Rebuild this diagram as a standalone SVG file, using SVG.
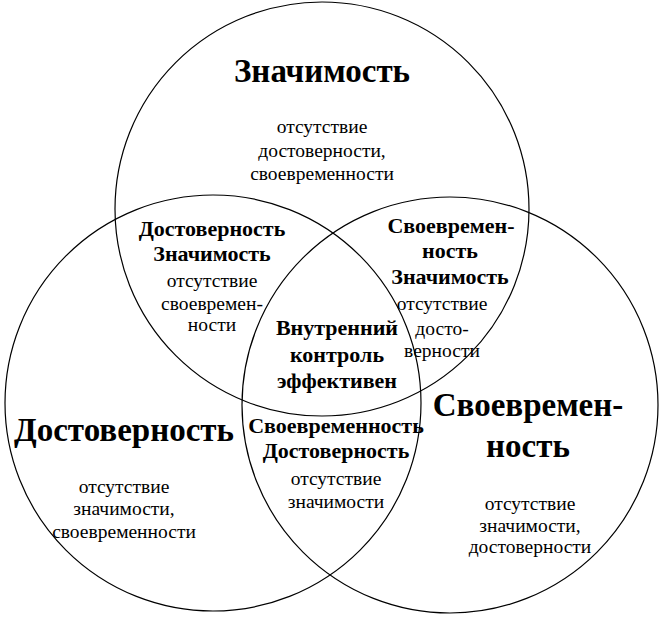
<svg xmlns="http://www.w3.org/2000/svg" width="664" height="619" viewBox="0 0 664 619">
<style>
.c{fill:none;stroke:#000;stroke-width:1.2}
text{fill:#000;text-anchor:middle}
.big{font-size:33px;font-weight:bold}
.mid{font-size:22px;font-weight:bold}
.sm{font-size:19.5px}
</style>
<rect width="664" height="619" fill="#fff"/>
<g id="circles">
<circle id="c-top" class="c" cx="322" cy="209" r="207"/>
<circle id="c-left" class="c" cx="213" cy="403" r="208"/>
<circle id="c-right" class="c" cx="450" cy="405" r="208"/>
</g>
<g id="labels" font-family="'Liberation Serif', 'DejaVu Serif', serif">
<g id="n-top">
<text class="big" x="322" y="82">Значимость</text>
<text class="sm" x="322" y="133">отсутствие</text>
<text class="sm" x="322" y="157">достоверности,</text>
<text class="sm" x="322" y="180">своевременности</text>
</g>
<g id="n-left">
<text class="big" x="124" y="441">Достоверность</text>
<text class="sm" x="124" y="493">отсутствие</text>
<text class="sm" x="124" y="515">значимости,</text>
<text class="sm" x="124" y="538">своевременности</text>
</g>
<g id="n-right">
<text class="big" x="528" y="416">Своевремен-</text>
<text class="big" x="528" y="457">ность</text>
<text class="sm" x="530" y="510">отсутствие</text>
<text class="sm" x="530" y="532">значимости,</text>
<text class="sm" x="530" y="553">достоверности</text>
</g>
<g id="n-top-left">
<text class="mid" x="212" y="236">Достоверность</text>
<text class="mid" x="212" y="261">Значимость</text>
<text class="sm" x="212" y="287">отсутствие</text>
<text class="sm" x="212" y="310">своевремен-</text>
<text class="sm" x="212" y="331">ности</text>
</g>
<g id="n-top-right">
<text class="mid" x="451" y="233">Своевремен-</text>
<text class="mid" x="450" y="258">ность</text>
<text class="mid" x="450" y="284">Значимость</text>
<text class="sm" x="442" y="310">отсутствие</text>
<text class="sm" x="442" y="335">досто-</text>
<text class="sm" x="442" y="357">верности</text>
</g>
<g id="n-center">
<text class="mid" x="337" y="335">Внутренний</text>
<text class="mid" x="337" y="362">контроль</text>
<text class="mid" x="337" y="388">эффективен</text>
</g>
<g id="n-bottom">
<text class="mid" x="336" y="433">Своевременность</text>
<text class="mid" x="336" y="458">Достоверность</text>
<text class="sm" x="336" y="485">отсутствие</text>
<text class="sm" x="336" y="508">значимости</text>
</g>
</g>
</svg>
